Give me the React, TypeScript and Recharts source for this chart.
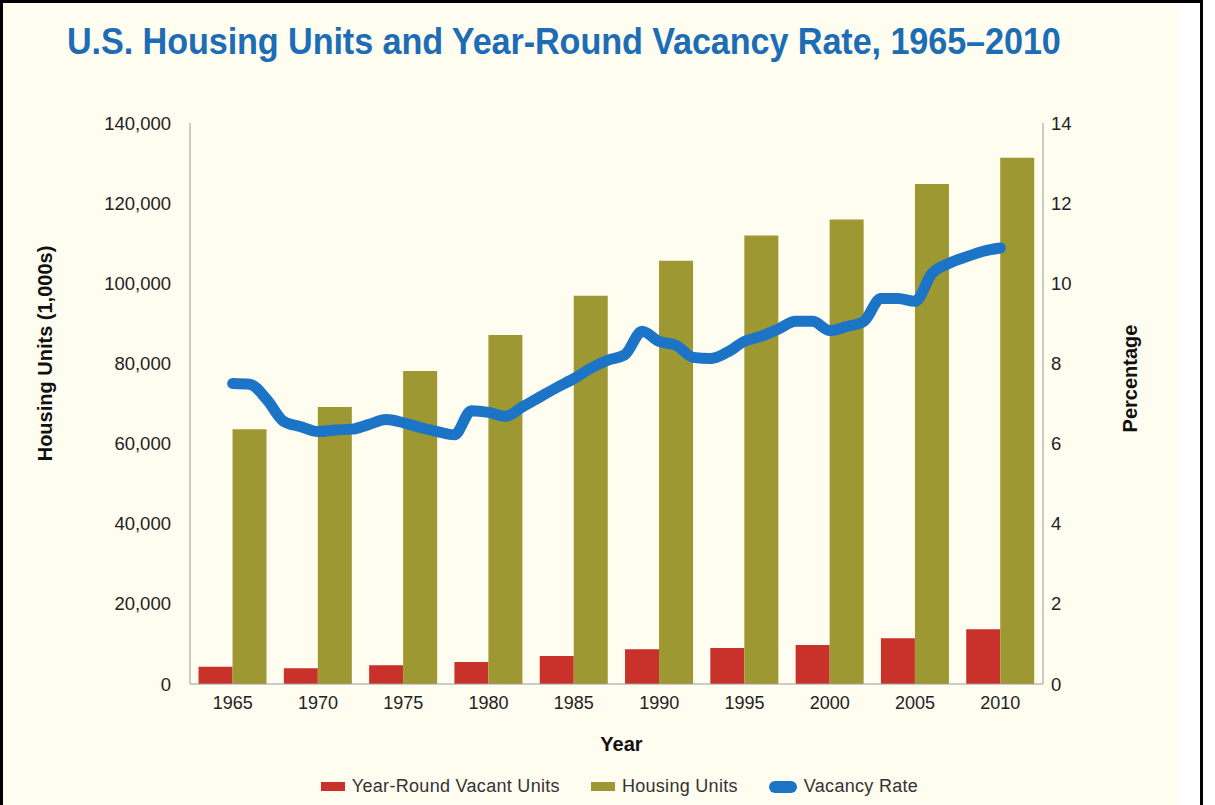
import {
  Bar,
  ComposedChart,
  Legend,
  Line,
  XAxis,
  YAxis,
} from "recharts";

const years = ["1965", "1970", "1975", "1980", "1985", "1990", "1995", "2000", "2005", "2010"];
const vacantUnits = [4300, 3900, 4700, 5500, 7000, 8650, 9000, 9750, 11400, 13650];
const housingUnits = [63600, 69100, 78100, 87100, 96900, 105600, 111900, 115900, 124800, 131300];

// annual vacancy rate
const rateYears = [
  1965, 1966, 1967, 1968, 1969, 1970, 1971, 1972, 1973, 1974, 1975, 1976, 1977, 1978, 1979, 1980,
  1981, 1982, 1983, 1984, 1985, 1986, 1987, 1988, 1989, 1990, 1991, 1992, 1993, 1994, 1995, 1996,
  1997, 1998, 1999, 2000, 2001, 2002, 2003, 2004, 2005, 2006, 2007, 2008, 2009, 2010,
];
const vacancyRate = [
  7.5, 7.48, 7.1, 6.55, 6.42, 6.3, 6.34, 6.36, 6.48, 6.6, 6.52, 6.4, 6.3, 6.22, 6.82, 6.78,
  6.68, 6.92, 7.16, 7.4, 7.62, 7.88, 8.08, 8.22, 8.8, 8.55, 8.45, 8.15, 8.12, 8.28, 8.55, 8.68,
  8.86, 9.05, 9.05, 8.82, 8.92, 9.05, 9.62, 9.62, 9.55, 10.25, 10.5, 10.66, 10.8, 10.88,
];

const leftTicks = [0, 20000, 40000, 60000, 80000, 100000, 120000, 140000];
const rightTicks = [0, 2, 4, 6, 8, 10, 12, 14];

const barData = years.map((year, i) => ({
  year,
  vacant: vacantUnits[i],
  housing: housingUnits[i],
}));
const rateData = rateYears.map((year, i) => ({ year, rate: vacancyRate[i] }));

const RED = "#c8322b";
const OLIVE = "#9d9832";
const BLUE = "#1c74c6";
const FONT = "'Liberation Sans', Arial, sans-serif";

const legendItems = [
  { label: "Year-Round Vacant Units", color: RED, pill: false },
  { label: "Housing Units", color: OLIVE, pill: false },
  { label: "Vacancy Rate", color: BLUE, pill: true },
];

function LegendContent() {
  return (
    <div
      style={{
        display: "flex",
        justifyContent: "center",
        alignItems: "center",
        gap: 31,
        paddingTop: 6,
        paddingLeft: 76,
      }}
    >
      {legendItems.map((it) => (
        <div key={it.label} style={{ display: "flex", alignItems: "center" }}>
          <span
            style={{
              display: "inline-block",
              width: it.pill ? 28 : 24,
              height: it.pill ? 12 : 9,
              borderRadius: it.pill ? 6 : 0,
              background: it.color,
              marginRight: 7,
            }}
          />
          <span style={{ fontSize: 18, letterSpacing: 0.3, color: "#333" }}>{it.label}</span>
        </div>
      ))}
    </div>
  );
}

function LeftTitle(props: any) {
  const { viewBox } = props;
  const x = viewBox.x + 45;
  const y = viewBox.y + viewBox.height / 2 - 50;
  return (
    <text
      x={x}
      y={y}
      transform={`rotate(-90 ${x} ${y})`}
      textAnchor="middle"
      dominantBaseline="central"
      fontSize={20}
      fontWeight="bold"
      fill="#111"
    >
      Housing Units (1,000s)
    </text>
  );
}

function RightTitle(props: any) {
  const { viewBox } = props;
  const x = viewBox.x + 87;
  const y = viewBox.y + viewBox.height / 2 - 25;
  return (
    <text
      x={x}
      y={y}
      transform={`rotate(-90 ${x} ${y})`}
      textAnchor="middle"
      dominantBaseline="central"
      fontSize={20}
      fontWeight="bold"
      fill="#111"
    >
      Percentage
    </text>
  );
}

function BottomTitle(props: any) {
  const { viewBox } = props;
  const x = viewBox.x + viewBox.width / 2 + 5;
  const y = viewBox.y + 60;
  return (
    <text x={x} y={y} textAnchor="middle" dominantBaseline="central" fontSize={20} fontWeight="bold" fill="#111">
      Year
    </text>
  );
}

export default function App() {
  return (
    <div
      style={{
        position: "absolute",
        left: 0,
        top: 0,
        width: 1197,
        height: 805,
        borderLeft: "3px solid #000",
        borderTop: "3px solid #000",
        borderRight: "3px solid #000",
        background: "#fff",
        fontFamily: FONT,
        overflow: "hidden",
      }}
    >
      <div style={{ position: "absolute", left: 0, top: 0, width: 1175, height: 805, background: "#fffcf0" }} />
      <div
        style={{
          position: "absolute",
          left: 64,
          top: 18,
          fontSize: 36,
          fontWeight: "bold",
          color: "#1c6db5",
          whiteSpace: "nowrap",
          transform: "scaleX(0.95)",
          transformOrigin: "left top",
          letterSpacing: -0.1,
        }}
      >
        U.S. Housing Units and Year-Round Vacancy Rate, 1965–2010
      </div>
      <div style={{ position: "absolute", left: -3, top: -3 }}>
        <ComposedChart
          width={1215}
          height={805}
          data={barData}
          margin={{ top: 123, right: 52, bottom: 5, left: 0 }}
          barCategoryGap="10%"
          barGap={0}
          style={{ fontFamily: FONT }}
        >
          <XAxis
            xAxisId="cat"
            dataKey="year"
            height={86}
            axisLine={{ stroke: "#9a9a9a" }}
            tickLine={false}
            tickSize={0}
            tickMargin={12}
            tick={{ fontSize: 18, fill: "#222" }}
            label={<BottomTitle />}
          />
          <XAxis
            xAxisId="yr"
            type="number"
            dataKey="year"
            domain={[1962.5, 2012.5]}
            allowDataOverflow
            hide
          />
          <YAxis
            yAxisId="left"
            width={190}
            domain={[0, 140000]}
            ticks={leftTicks}
            tickFormatter={(v: number) => v.toLocaleString("en-US")}
            axisLine={{ stroke: "#9a9a9a" }}
            tickLine={false}
            tickSize={0}
            tickMargin={19}
            tick={{ fontSize: 18.5, fill: "#222" }}
            label={<LeftTitle />}
          />
          <YAxis
            yAxisId="right"
            orientation="right"
            width={120}
            domain={[0, 14]}
            ticks={rightTicks}
            axisLine={{ stroke: "#9a9a9a" }}
            tickLine={false}
            tickSize={0}
            tickMargin={8}
            tick={{ fontSize: 18.5, fill: "#222" }}
            label={<RightTitle />}
          />
          <Legend verticalAlign="bottom" height={30} content={<LegendContent />} />
          <Bar
            xAxisId="cat"
            yAxisId="left"
            dataKey="vacant"
            name="Year-Round Vacant Units"
            fill={RED}
            isAnimationActive={false}
          />
          <Bar
            xAxisId="cat"
            yAxisId="left"
            dataKey="housing"
            name="Housing Units"
            fill={OLIVE}
            isAnimationActive={false}
          />
          <Line
            xAxisId="yr"
            yAxisId="right"
            data={rateData}
            dataKey="rate"
            name="Vacancy Rate"
            type="monotone"
            stroke={BLUE}
            strokeWidth={11}
            strokeLinecap="round"
            strokeLinejoin="round"
            dot={false}
            activeDot={false}
            isAnimationActive={false}
          />
        </ComposedChart>
      </div>
    </div>
  );
}
